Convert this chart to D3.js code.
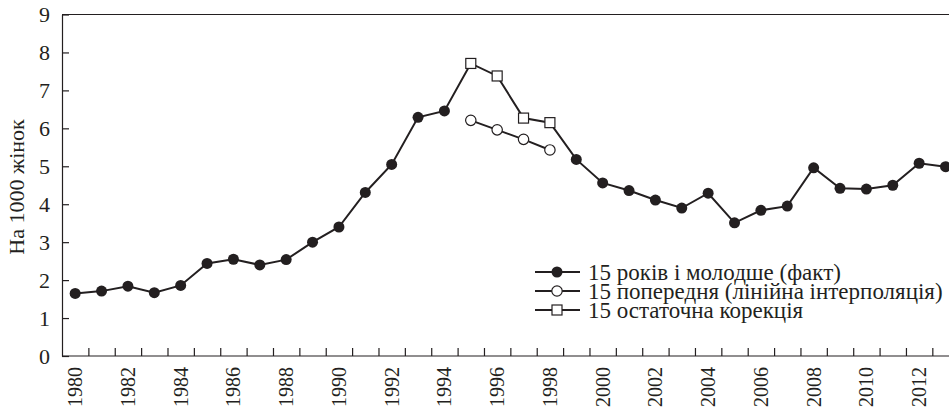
<!DOCTYPE html>
<html>
<head>
<meta charset="utf-8">
<script src="https://cdn.jsdelivr.net/npm/d3@7"></script>
<style>
  body { margin: 0; background: #fff; }
</style>
</head>
<body>
<div id="chart"></div>
<script>
var years = [1980,1981,1982,1983,1984,1985,1986,1987,1988,1989,1990,1991,1992,1993,1994,1995,1996,
             1997,1998,1999,2000,2001,2002,2003,2004,2005,2006,2007,2008,2009,2010,2011,2012,2013];
// fact series, gap where the correction takes over
var factValues = [1.65,1.71,1.84,1.67,1.86,2.44,2.55,2.40,2.54,3.00,3.40,4.31,5.05,6.29,6.46,
                  null,null,null,null,
                  5.18,4.56,4.36,4.11,3.90,4.29,3.51,3.84,3.95,4.96,4.42,4.40,4.50,5.08,4.99];
var patchYears = [1995,1996,1997,1998];
var interpValues = [6.21,5.96,5.71,5.43];
var corrValues = [7.71,7.38,6.27,6.15];
var yTicks = [0,1,2,3,4,5,6,7,8,9];
var labelYears = years.filter(function(d){ return d % 2 === 0; });
var legendLabels = ["15 років і молодше (факт)", "15 попередня (лінійна інтерполяція)", "15 остаточна корекція"];

var W = 949, H = 411;
var plotLeft = 62, plotTop = 14.5, plotBottom = 356, plotRight = 958.7;
var ink = "#231f20";
var serif = "'Liberation Serif'";

var svg = d3.select("#chart").append("svg")
  .attr("width", W).attr("height", H);

var x = d3.scaleBand().domain(years).range([plotLeft, plotRight]);
var xEdge = d3.scaleLinear().domain([1979.5, 2013.5]).range([plotLeft, plotRight]);
var y = d3.scaleLinear().domain([0, 9]).range([plotBottom, plotTop]);
function cx(d){ return x(d) + x.bandwidth() / 2; }

// top border
svg.append("line")
  .attr("x1", plotLeft).attr("x2", W)
  .attr("y1", y(9)).attr("y2", y(9))
  .attr("stroke", ink).attr("stroke-width", 1.2);

// y axis, ticks pointing inward
var ya = svg.append("g").attr("transform", "translate(" + plotLeft + ",0)")
  .call(d3.axisLeft(y).tickValues(yTicks).tickSizeInner(-7).tickSizeOuter(0).tickPadding(12).tickFormat(d3.format("d")));
ya.select(".domain").attr("stroke", ink).attr("stroke-width", 1.2);
ya.selectAll(".tick line").attr("stroke", ink).attr("stroke-width", 1.2);
ya.selectAll("text").attr("font-size", 22).attr("fill", ink).style("font-family", serif);

// x axis: ticks on year boundaries, pointing inward
var xa = svg.append("g").attr("transform", "translate(0," + plotBottom + ")")
  .call(d3.axisBottom(xEdge).tickValues(d3.range(1980.5, 2013, 1)).tickSize(-8).tickFormat(""));
xa.select(".domain").remove();
xa.selectAll(".tick line").attr("stroke", ink).attr("stroke-width", 1.2);
svg.append("line")
  .attr("x1", plotLeft).attr("x2", W).attr("y1", plotBottom).attr("y2", plotBottom)
  .attr("stroke", ink).attr("stroke-width", 1.2);

// x labels, rotated
var xl = svg.append("g").attr("transform", "translate(0," + plotBottom + ")")
  .call(d3.axisBottom(x).tickValues(labelYears).tickSize(0).tickPadding(0));
xl.select(".domain").remove();
xl.selectAll("text")
  .attr("font-size", 20).attr("fill", ink)
  .style("font-family", serif)
  .attr("text-anchor", "end")
  .attr("dy", "0.35em")
  .attr("transform", "translate(0,11) rotate(-90)")
  .attr("x", 0).attr("y", 0);

// y title
svg.append("text")
  .attr("transform", "translate(24,187) rotate(-90)")
  .attr("text-anchor", "middle")
  .attr("font-size", 22).attr("fill", ink)
  .style("font-family", serif)
  .text("На 1000 жінок");

// main line: fact with corrected values filling the gap
var mainData = years.map(function(yr, i){
  var k = patchYears.indexOf(yr);
  return { year: yr, value: factValues[i] != null ? factValues[i] : corrValues[k] };
});
var line = d3.line()
  .defined(function(d){ return d.value != null; })
  .x(function(d){ return cx(d.year); })
  .y(function(d){ return y(d.value); });

svg.append("path").datum(mainData)
  .attr("d", line).attr("fill", "none")
  .attr("stroke", ink).attr("stroke-width", 2);

var interpData = patchYears.map(function(yr, i){ return { year: yr, value: interpValues[i] }; });
var corrData = patchYears.map(function(yr, i){ return { year: yr, value: corrValues[i] }; });
var factData = years.map(function(yr, i){ return { year: yr, value: factValues[i] }; })
  .filter(function(d){ return d.value != null; });

svg.append("path").datum(interpData)
  .attr("d", line).attr("fill", "none")
  .attr("stroke", ink).attr("stroke-width", 2);

svg.selectAll(".fact").data(factData).enter().append("circle")
  .attr("class", "fact")
  .attr("cx", function(d){ return cx(d.year); })
  .attr("cy", function(d){ return y(d.value); })
  .attr("r", 5.5).attr("fill", ink);

svg.selectAll(".interp").data(interpData).enter().append("circle")
  .attr("class", "interp")
  .attr("cx", function(d){ return cx(d.year); })
  .attr("cy", function(d){ return y(d.value); })
  .attr("r", 5.2).attr("fill", "#fff").attr("stroke", ink).attr("stroke-width", 1.2);

svg.selectAll(".corr").data(corrData).enter().append("rect")
  .attr("class", "corr")
  .attr("x", function(d){ return cx(d.year) - 5; })
  .attr("y", function(d){ return y(d.value) - 5; })
  .attr("width", 10).attr("height", 10)
  .attr("fill", "#fff").attr("stroke", ink).attr("stroke-width", 1.2);

// legend
var lg = svg.selectAll(".lg").data(legendLabels).enter().append("g")
  .attr("class", "lg")
  .attr("transform", function(d, i){ return "translate(535," + (272 + i * 19) + ")"; });
lg.append("line").attr("x1", 0).attr("x2", 45)
  .attr("stroke", ink).attr("stroke-width", 2);
lg.filter(function(d, i){ return i === 0; }).append("circle")
  .attr("cx", 22).attr("r", 5.5).attr("fill", ink);
lg.filter(function(d, i){ return i === 1; }).append("circle")
  .attr("cx", 22).attr("r", 5.2).attr("fill", "#fff").attr("stroke", ink).attr("stroke-width", 1.2);
lg.filter(function(d, i){ return i === 2; }).append("rect")
  .attr("x", 17).attr("y", -5).attr("width", 10).attr("height", 10)
  .attr("fill", "#fff").attr("stroke", ink).attr("stroke-width", 1.2);
lg.append("text")
  .attr("x", 53).attr("dy", "0.35em")
  .attr("font-size", 23).attr("fill", ink)
  .style("font-family", serif)
  .text(function(d){ return d; });
</script>
</body>
</html>
